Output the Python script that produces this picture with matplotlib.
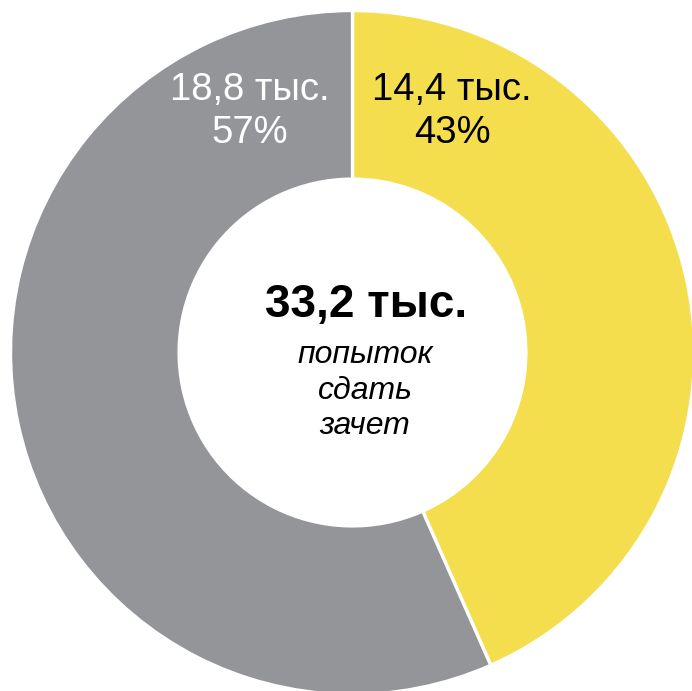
import matplotlib
matplotlib.use("Agg")
import matplotlib.pyplot as plt

categories = ["Сдали", "Не сдали"]
values = [14.4, 18.8]
shares = ["43%", "57%"]
value_labels = ["14,4 тыс.", "18,8 тыс."]
colors = ["#F4DE4E", "#939598"]
label_colors = ["black", "white"]
total_label = "33,2 тыс."
center_lines = ["попыток", "сдать", "зачет"]

W, H = 692, 691
fig = plt.figure(figsize=(W / 100, H / 100), dpi=100)
ax = fig.add_axes([0, 0, 1, 1])
ax.set_xlim(0, W)
ax.set_ylim(0, H)
ax.set_aspect("equal")
ax.axis("off")

cx, cy = 352.5, H - 352.5
R = 342
ax.pie(values, colors=colors, startangle=90, counterclock=False,
       center=(cx, cy), radius=R,
       wedgeprops=dict(width=R * 0.493, edgecolor="white", linewidth=2.4))
ax.set_xlim(0, W)
ax.set_ylim(0, H)

font = "Liberation Sans"
label_x = [452, 250]
for i in range(2):
    ax.text(label_x[i], H - 100, value_labels[i], ha="center", va="baseline",
            fontsize=27.5, family=font, color=label_colors[i])
    ax.text(label_x[i], H - 143, shares[i], ha="center", va="baseline",
            fontsize=27.5, family=font, color=label_colors[i])

ax.text(366, H - 317, total_label, ha="center", va="baseline",
        fontsize=33, family=font, fontweight="bold", color="black")
ys = [363, 399, 434]
for t, y in zip(center_lines, ys):
    ax.text(365, H - y, t, ha="center", va="baseline", fontsize=23,
            family=font, style="italic", color="black")

fig.savefig("out.png", dpi=100, facecolor="white")
